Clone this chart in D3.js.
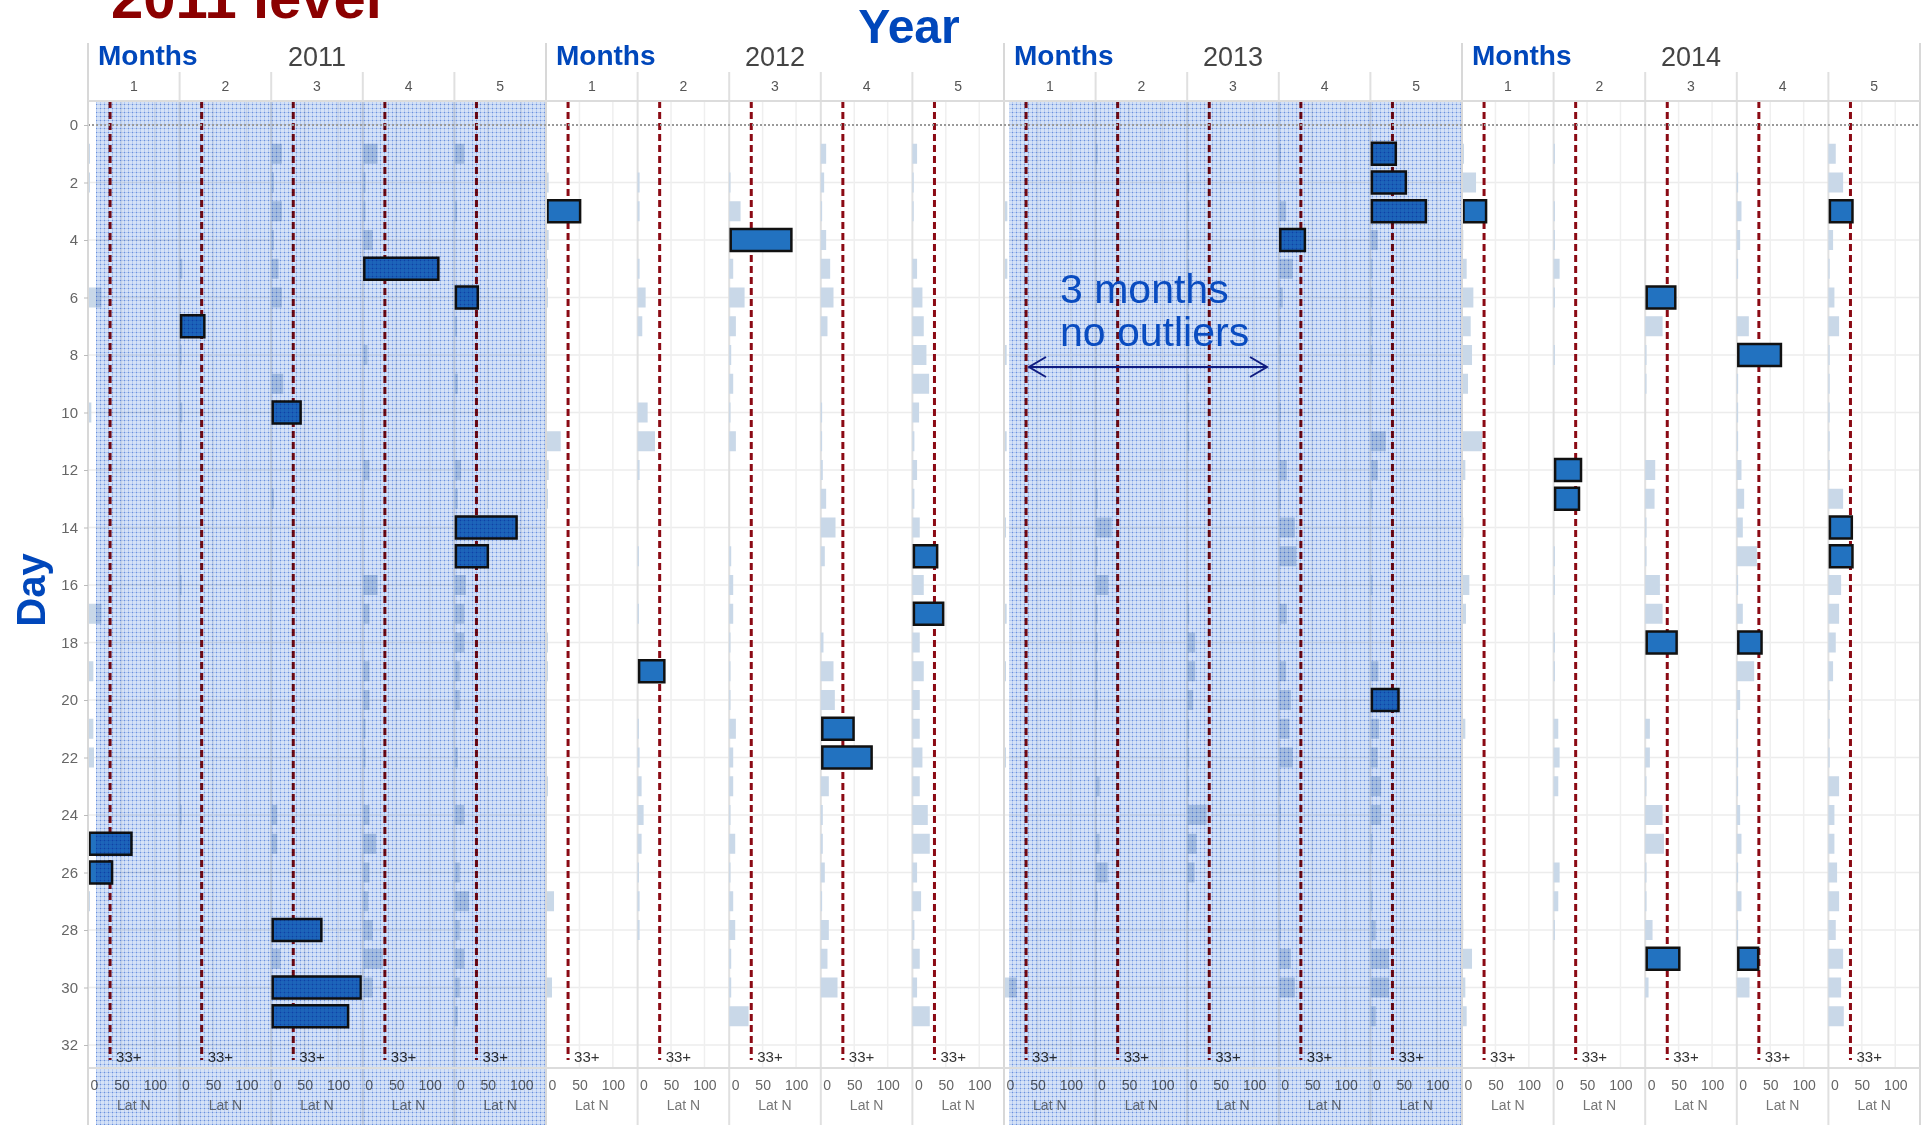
<!DOCTYPE html>
<html>
<head>
<meta charset="utf-8">
<script src="https://cdn.jsdelivr.net/npm/d3@7"></script>
<style>
body { margin: 0; background: #fff; }
svg text { font-family: "Liberation Sans", Arial, sans-serif; }
</style>
</head>
<body>
<div id="chart"></div>
<script>
// chart values
const years = [2011, 2012, 2013, 2014];
const months = [1, 2, 3, 4, 5];
const shadedYears = [2011, 2013];
const dayTicks = [0, 2, 4, 6, 8, 10, 12, 14, 16, 18, 20, 22, 24, 26, 28, 30, 32];
const latTicks = [0, 50, 100];
const latThreshold = 33;

// outliers: [month, day, lat]
const outliers2011 = [[2, 7, 37], [3, 10, 44], [4, 5, 113], [5, 6, 35], [5, 14, 93], [5, 15, 50],
  [1, 25, 65], [1, 26, 36], [3, 28, 75], [3, 30, 134], [3, 31, 115]];
const outliers2012 = [[1, 3, 51], [3, 4, 93], [5, 15, 37], [2, 19, 40], [4, 21, 49], [4, 22, 76], [5, 17, 46]];
const outliers2013 = [[4, 4, 39], [5, 1, 38], [5, 2, 53], [5, 3, 83], [5, 20, 42]];
const outliers2014 = [[1, 3, 36], [5, 3, 36], [3, 6, 45], [4, 8, 66], [2, 12, 41], [2, 13, 38], [5, 14, 35],
  [5, 15, 36], [3, 18, 47], [4, 18, 37], [3, 29, 51], [4, 29, 32]];

// normal days: [month, day, lat]
const normal2011 = [[1, 1, 3], [1, 2, 3], [1, 6, 20], [1, 10, 5], [1, 17, 20], [1, 19, 8], [1, 21, 8], [1, 22, 9], [1, 27, 3],
  [2, 5, 4], [2, 8, 3], [2, 10, 4], [2, 11, 3], [2, 16, 3], [2, 24, 3],
  [3, 1, 16], [3, 2, 4], [3, 3, 16], [3, 4, 4], [3, 5, 11], [3, 6, 16], [3, 9, 18], [3, 13, 4], [3, 24, 9], [3, 25, 9], [3, 29, 14],
  [4, 1, 22], [4, 2, 4], [4, 3, 4], [4, 4, 15], [4, 8, 7], [4, 12, 10], [4, 16, 22], [4, 17, 10], [4, 19, 10], [4, 20, 10],
  [4, 21, 4], [4, 22, 4], [4, 24, 10], [4, 25, 20], [4, 26, 10], [4, 27, 8], [4, 28, 15], [4, 29, 30], [4, 30, 15],
  [5, 1, 15], [5, 3, 4], [5, 7, 4], [5, 9, 5], [5, 12, 10], [5, 13, 5], [5, 16, 17], [5, 17, 15], [5, 18, 15], [5, 19, 8],
  [5, 20, 8], [5, 22, 5], [5, 24, 15], [5, 26, 8], [5, 27, 22], [5, 28, 8], [5, 29, 15], [5, 30, 8], [5, 31, 5]];
const normal2012 = [[1, 2, 4], [1, 4, 4], [1, 5, 3], [1, 6, 3], [1, 11, 22], [1, 12, 4], [1, 13, 3], [1, 18, 3], [1, 19, 3], [1, 23, 3], [1, 27, 12], [1, 30, 9],
  [2, 2, 3], [2, 3, 3], [2, 5, 3], [2, 6, 12], [2, 7, 7], [2, 10, 15], [2, 11, 26], [2, 12, 3], [2, 15, 2], [2, 17, 2], [2, 21, 2],
  [2, 22, 3], [2, 23, 6], [2, 24, 9], [2, 25, 6], [2, 26, 2], [2, 27, 3], [2, 28, 3],
  [3, 2, 2], [3, 3, 17], [3, 5, 6], [3, 6, 23], [3, 7, 10], [3, 8, 3], [3, 9, 6], [3, 10, 2], [3, 11, 10], [3, 15, 3], [3, 16, 6],
  [3, 17, 6], [3, 18, 2], [3, 19, 2], [3, 20, 2], [3, 21, 10], [3, 22, 6], [3, 23, 6], [3, 24, 2], [3, 25, 9], [3, 26, 2], [3, 27, 6],
  [3, 28, 9], [3, 29, 3], [3, 30, 3], [3, 31, 29],
  [4, 1, 8], [4, 2, 5], [4, 3, 2], [4, 4, 8], [4, 5, 14], [4, 6, 19], [4, 7, 10], [4, 10, 2], [4, 11, 2], [4, 12, 3], [4, 13, 8],
  [4, 14, 22], [4, 15, 6], [4, 18, 4], [4, 19, 19], [4, 20, 21], [4, 23, 12], [4, 24, 3], [4, 25, 3], [4, 26, 6], [4, 27, 2],
  [4, 28, 12], [4, 29, 10], [4, 30, 25],
  [5, 1, 7], [5, 2, 2], [5, 3, 2], [5, 5, 7], [5, 6, 15], [5, 7, 17], [5, 8, 21], [5, 9, 25], [5, 10, 10], [5, 11, 3], [5, 12, 7],
  [5, 13, 3], [5, 14, 11], [5, 16, 17], [5, 18, 11], [5, 19, 17], [5, 20, 11], [5, 21, 11], [5, 22, 15], [5, 23, 11], [5, 24, 23],
  [5, 25, 26], [5, 26, 7], [5, 27, 13], [5, 28, 3], [5, 29, 11], [5, 30, 7], [5, 31, 26]];
const normal2013 = [[1, 3, 5], [1, 5, 5], [1, 8, 4], [1, 11, 4], [1, 14, 3], [1, 17, 4], [1, 19, 3], [1, 22, 3], [1, 30, 19],
  [2, 1, 3], [2, 13, 3], [2, 14, 24], [2, 15, 3], [2, 16, 19], [2, 17, 3], [2, 18, 3], [2, 19, 3], [2, 20, 3], [2, 23, 6], [2, 25, 6], [2, 26, 18], [2, 27, 3],
  [3, 2, 3], [3, 3, 3], [3, 4, 3], [3, 5, 3], [3, 6, 3], [3, 7, 3], [3, 8, 3], [3, 9, 3], [3, 10, 3], [3, 11, 3], [3, 17, 3],
  [3, 18, 12], [3, 19, 12], [3, 20, 9], [3, 21, 3], [3, 22, 3], [3, 23, 3], [3, 24, 29], [3, 25, 14], [3, 26, 11], [3, 27, 3],
  [4, 1, 3], [4, 3, 11], [4, 5, 21], [4, 6, 6], [4, 7, 3], [4, 8, 3], [4, 10, 3], [4, 11, 3], [4, 12, 12], [4, 13, 3], [4, 14, 24],
  [4, 15, 26], [4, 17, 12], [4, 19, 11], [4, 20, 18], [4, 21, 16], [4, 22, 21], [4, 23, 3], [4, 24, 3], [4, 28, 3], [4, 29, 18], [4, 30, 24],
  [5, 4, 11], [5, 5, 3], [5, 6, 3], [5, 7, 3], [5, 8, 3], [5, 11, 23], [5, 12, 11], [5, 13, 3], [5, 16, 3], [5, 19, 12], [5, 21, 13],
  [5, 22, 11], [5, 23, 16], [5, 24, 16], [5, 25, 3], [5, 27, 3], [5, 28, 8], [5, 29, 28], [5, 30, 28], [5, 31, 8]];
const normal2014 = [[1, 1, 3], [1, 2, 21], [1, 4, 2], [1, 5, 7], [1, 6, 17], [1, 7, 13], [1, 8, 15], [1, 9, 9], [1, 11, 30], [1, 12, 5],
  [1, 14, 2], [1, 16, 11], [1, 17, 6], [1, 21, 5], [1, 28, 2], [1, 29, 15], [1, 30, 5], [1, 31, 7],
  [2, 1, 2], [2, 3, 2], [2, 4, 2], [2, 5, 9], [2, 6, 2], [2, 8, 2], [2, 15, 2], [2, 16, 2], [2, 18, 2], [2, 19, 2], [2, 21, 7],
  [2, 22, 9], [2, 23, 7], [2, 26, 9], [2, 27, 7], [2, 28, 2],
  [3, 7, 26], [3, 8, 2], [3, 9, 2], [3, 12, 15], [3, 13, 14], [3, 14, 2], [3, 15, 2], [3, 16, 22], [3, 17, 26], [3, 21, 7], [3, 22, 7],
  [3, 23, 2], [3, 24, 26], [3, 25, 28], [3, 26, 2], [3, 27, 2], [3, 28, 11], [3, 30, 5],
  [4, 2, 2], [4, 3, 7], [4, 4, 5], [4, 5, 2], [4, 7, 18], [4, 9, 2], [4, 10, 2], [4, 11, 2], [4, 12, 7], [4, 13, 11], [4, 14, 9],
  [4, 15, 30], [4, 16, 2], [4, 17, 9], [4, 19, 26], [4, 20, 5], [4, 21, 2], [4, 22, 2], [4, 23, 2], [4, 24, 5], [4, 25, 7],
  [4, 26, 2], [4, 27, 7], [4, 28, 2], [4, 30, 19],
  [5, 1, 11], [5, 2, 22], [5, 4, 7], [5, 5, 2], [5, 6, 9], [5, 7, 16], [5, 8, 2], [5, 9, 2], [5, 10, 2], [5, 11, 2], [5, 12, 2],
  [5, 13, 22], [5, 16, 19], [5, 17, 16], [5, 18, 11], [5, 19, 7], [5, 20, 2], [5, 21, 2], [5, 22, 2], [5, 23, 16], [5, 24, 9],
  [5, 25, 9], [5, 26, 13], [5, 27, 16], [5, 28, 11], [5, 29, 22], [5, 30, 19], [5, 31, 23]];

const outliersByYear = { 2011: outliers2011, 2012: outliers2012, 2013: outliers2013, 2014: outliers2014 };
const normalByYear = { 2011: normal2011, 2012: normal2012, 2013: normal2013, 2014: normal2014 };

const width = 1929, height = 1125;
const plotTop = 101, axisY = 1068;
const blue = "#0047bb";

const svg = d3.select("#chart").append("svg")
  .attr("width", width)
  .attr("height", height);

// shading pattern (dotted blue grid)
const pat = svg.append("defs").append("pattern")
  .attr("id", "dots")
  .attr("width", 4).attr("height", 4)
  .attr("patternUnits", "userSpaceOnUse");
pat.append("rect").attr("width", 4).attr("height", 4).attr("fill", "#d5e2f7");
pat.append("rect").attr("width", 4).attr("height", 1).attr("fill", "#b6cbf1");
pat.append("rect").attr("width", 1).attr("height", 4).attr("fill", "#b6cbf1");
pat.append("rect").attr("width", 1).attr("height", 1).attr("fill", "#6a90dc");

// scales
const yearX = d3.scaleBand().domain(years).range([88, 1920]);
const monthX = d3.scaleBand().domain(months).range([0, yearX.bandwidth()]);
const lat = d3.scaleLinear().domain([0, 137]).range([0, monthX.bandwidth()]);
const y = d3.scaleLinear().domain([0, 32]).range([125, 1045]);

// horizontal gridlines
svg.append("g")
  .selectAll("line")
  .data(dayTicks.filter(d => d > 0))
  .join("line")
  .attr("x1", 88).attr("x2", 1920)
  .attr("y1", d => y(d)).attr("y2", d => y(d))
  .attr("stroke", "#ececec").attr("stroke-width", 1.5);

const panels = svg.selectAll(".year")
  .data(years)
  .join("g")
  .attr("class", "year")
  .attr("transform", d => `translate(${yearX(d)},0)`);

const cells = panels.selectAll(".month")
  .data(yr => months.map(m => ({ year: yr, month: m })))
  .join("g")
  .attr("class", "month")
  .attr("transform", d => `translate(${monthX(d.month)},0)`);

// vertical gridlines at 50 / 100
cells.selectAll(".vgrid")
  .data(latTicks.filter(t => t > 0))
  .join("line")
  .attr("x1", t => lat(t)).attr("x2", t => lat(t))
  .attr("y1", plotTop).attr("y2", axisY)
  .attr("stroke", "#efefef").attr("stroke-width", 1.5);

// month boundaries
cells.append("line")
  .attr("x1", 0).attr("x2", 0)
  .attr("y1", 72).attr("y2", height)
  .attr("stroke", "#e0e0e0").attr("stroke-width", 2);

// normal-day bars
cells.selectAll(".norm")
  .data(d => normalByYear[d.year].filter(r => r[0] === d.month))
  .join("rect")
  .attr("class", "norm")
  .attr("x", lat(0))
  .attr("y", r => y(r[1]) - 10)
  .attr("width", r => lat(r[2]) - lat(0))
  .attr("height", 20)
  .attr("fill", "#c9d8e8");

// threshold lines at 33
cells.append("line")
  .attr("x1", lat(latThreshold)).attr("x2", lat(latThreshold))
  .attr("y1", plotTop).attr("y2", axisY - 8)
  .attr("stroke", "#8b0a14").attr("stroke-width", 3)
  .attr("stroke-dasharray", "7,4");

// day 0 line
svg.append("line")
  .attr("x1", 88).attr("x2", 1920)
  .attr("y1", y(0)).attr("y2", y(0))
  .attr("stroke", "#9a9a9a").attr("stroke-width", 2)
  .attr("stroke-dasharray", "2,2");

// year borders
panels.append("line")
  .attr("x1", 0).attr("x2", 0)
  .attr("y1", 43).attr("y2", height)
  .attr("stroke", "#d8d8d8").attr("stroke-width", 2);
svg.append("line")
  .attr("x1", 1920).attr("x2", 1920)
  .attr("y1", 43).attr("y2", height)
  .attr("stroke", "#d8d8d8").attr("stroke-width", 2);

// shaded years
panels.filter(d => shadedYears.includes(d))
  .append("rect")
  .attr("x", d => d === 2011 ? 8 : 5)
  .attr("y", plotTop + 1)
  .attr("width", d => yearX.bandwidth() - (d === 2011 ? 9 : 6))
  .attr("height", height - plotTop)
  .attr("fill", "url(#dots)")
  .style("mix-blend-mode", "multiply");

// outlier bars
cells.selectAll(".out")
  .data(d => outliersByYear[d.year].filter(r => r[0] === d.month))
  .join("rect")
  .attr("class", "out")
  .attr("x", lat(0) + 1.5)
  .attr("y", r => y(r[1]) - 11)
  .attr("width", r => lat(r[2]) - lat(0) - 1.5)
  .attr("height", 22)
  .attr("fill", "#2272c0")
  .attr("stroke", "#111")
  .attr("stroke-width", 2.5);

// 33+ labels
cells.append("text")
  .attr("x", lat(latThreshold) + 6)
  .attr("y", 1062)
  .attr("font-size", 15)
  .attr("fill", "#333")
  .text("33+");

// header: month numbers and separators
cells.append("text")
  .attr("x", monthX.bandwidth() / 2)
  .attr("y", 91)
  .attr("text-anchor", "middle")
  .attr("font-size", 14)
  .attr("fill", "#555")
  .text(d => d.month);

svg.append("line")
  .attr("x1", 88).attr("x2", 1920)
  .attr("y1", plotTop).attr("y2", plotTop)
  .attr("stroke", "#dcdcdc").attr("stroke-width", 2);

panels.append("text")
  .attr("x", 10).attr("y", 65)
  .attr("font-size", 28).attr("font-weight", "bold")
  .attr("fill", blue)
  .text("Months");

panels.append("text")
  .attr("x", yearX.bandwidth() / 2).attr("y", 66)
  .attr("text-anchor", "middle")
  .attr("font-size", 27)
  .attr("fill", "#444")
  .text(d => d);

// bottom lat axes
svg.append("line")
  .attr("x1", 88).attr("x2", 1920)
  .attr("y1", axisY).attr("y2", axisY)
  .attr("stroke", "#dcdcdc").attr("stroke-width", 2);

cells.append("g")
  .attr("transform", `translate(0,${axisY})`)
  .call(d3.axisBottom(lat).tickValues(latTicks).tickSize(0).tickPadding(12))
  .call(g => g.select(".domain").remove())
  .call(g => g.selectAll("text")
    .attr("font-size", 14)
    .attr("fill", "#666")
    .attr("font-family", null)
    .filter(t => t === 0).attr("text-anchor", "start").attr("dx", 2));

cells.append("text")
  .attr("x", monthX.bandwidth() / 2)
  .attr("y", 1110)
  .attr("text-anchor", "middle")
  .attr("font-size", 14)
  .attr("fill", "#777")
  .text("Lat N");

// day axis
svg.append("g")
  .attr("transform", "translate(88,0)")
  .call(d3.axisLeft(y).tickValues(dayTicks).tickSize(4).tickPadding(6))
  .call(g => g.select(".domain").attr("stroke", "#d8d8d8").attr("stroke-width", 2)
    .attr("d", `M0,${plotTop}V${height}`))
  .call(g => g.selectAll(".tick line").attr("stroke", "#bbb"))
  .call(g => g.selectAll("text").attr("font-size", 15).attr("fill", "#666").attr("font-family", null));

// titles
svg.append("text")
  .attr("x", 111).attr("y", 18)
  .attr("font-size", 58).attr("font-weight", "bold")
  .attr("fill", "#8b0000")
  .text("2011 level");

svg.append("text")
  .attr("x", 909).attr("y", 43)
  .attr("text-anchor", "middle")
  .attr("font-size", 48).attr("font-weight", "bold")
  .attr("fill", blue)
  .text("Year");

svg.append("text")
  .attr("transform", "translate(45,590) rotate(-90)")
  .attr("text-anchor", "middle")
  .attr("font-size", 40).attr("font-weight", "bold")
  .attr("fill", blue)
  .text("Day");

// annotation
const note = svg.append("text")
  .attr("font-size", 41)
  .attr("fill", "#0a4cc0");
note.append("tspan").attr("x", 1060).attr("y", 303).text("3 months");
note.append("tspan").attr("x", 1060).attr("y", 346).text("no outliers");

const arrowY = 367, ax1 = 1029, ax2 = 1267;
svg.append("path")
  .attr("d", `M${ax1},${arrowY}H${ax2}M${ax1 + 17},${arrowY - 10}L${ax1},${arrowY}L${ax1 + 17},${arrowY + 10}` +
    `M${ax2 - 17},${arrowY - 10}L${ax2},${arrowY}L${ax2 - 17},${arrowY + 10}`)
  .attr("fill", "none")
  .attr("stroke", "#101c80")
  .attr("stroke-width", 2);
</script>
</body>
</html>
